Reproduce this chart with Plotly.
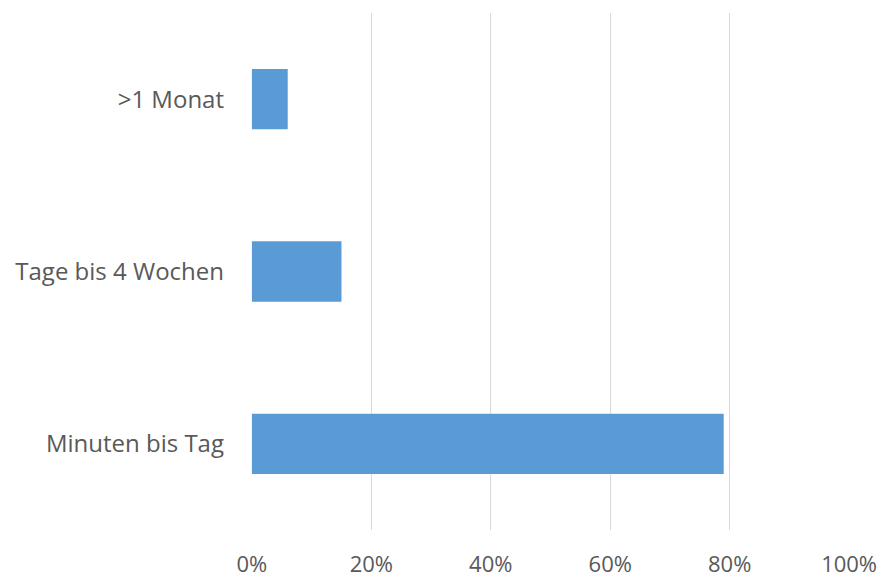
import plotly.graph_objects as go

categories = ["Minuten bis Tag", "Tage bis 4 Wochen", ">1 Monat"]
values = [0.79, 0.15, 0.06]
tick_vals = [0, 0.2, 0.4, 0.6, 0.8, 1.0]
tick_text = ["0%", "20%", "40%", "60%", "80%", "100%"]

fig = go.Figure()
fig.add_trace(go.Bar(
    y=categories,
    x=values,
    orientation="h",
    width=0.35,
    marker=dict(color="#5B9BD5", line=dict(width=0)),
))

# the page body adds an 8px offset, so the figure is 8px smaller
fig.update_layout(
    width=877,
    height=572,
    margin=dict(l=243, r=35, t=5, b=50),
    plot_bgcolor="white",
    paper_bgcolor="white",
    showlegend=False,
    font=dict(family="Open Sans, sans-serif", color="#595959", size=24),
)
fig.update_xaxes(
    range=[-0.0015, 1.0015],
    tickvals=tick_vals,
    ticktext=tick_text,
    showgrid=True,
    gridcolor="#D9D9D9",
    gridwidth=1.3,
    zeroline=False,
    showline=False,
    ticks="",
    automargin=False,
    ticklabelstandoff=19,
    tickfont=dict(size=22, color="#595959"),
)
fig.update_yaxes(
    range=[-0.5, 2.5],
    showgrid=False,
    zeroline=False,
    showline=False,
    ticks="",
    automargin=False,
    ticklabelstandoff=26,
    tickfont=dict(size=24, color="#595959"),
)

fig.write_html("out.html")
